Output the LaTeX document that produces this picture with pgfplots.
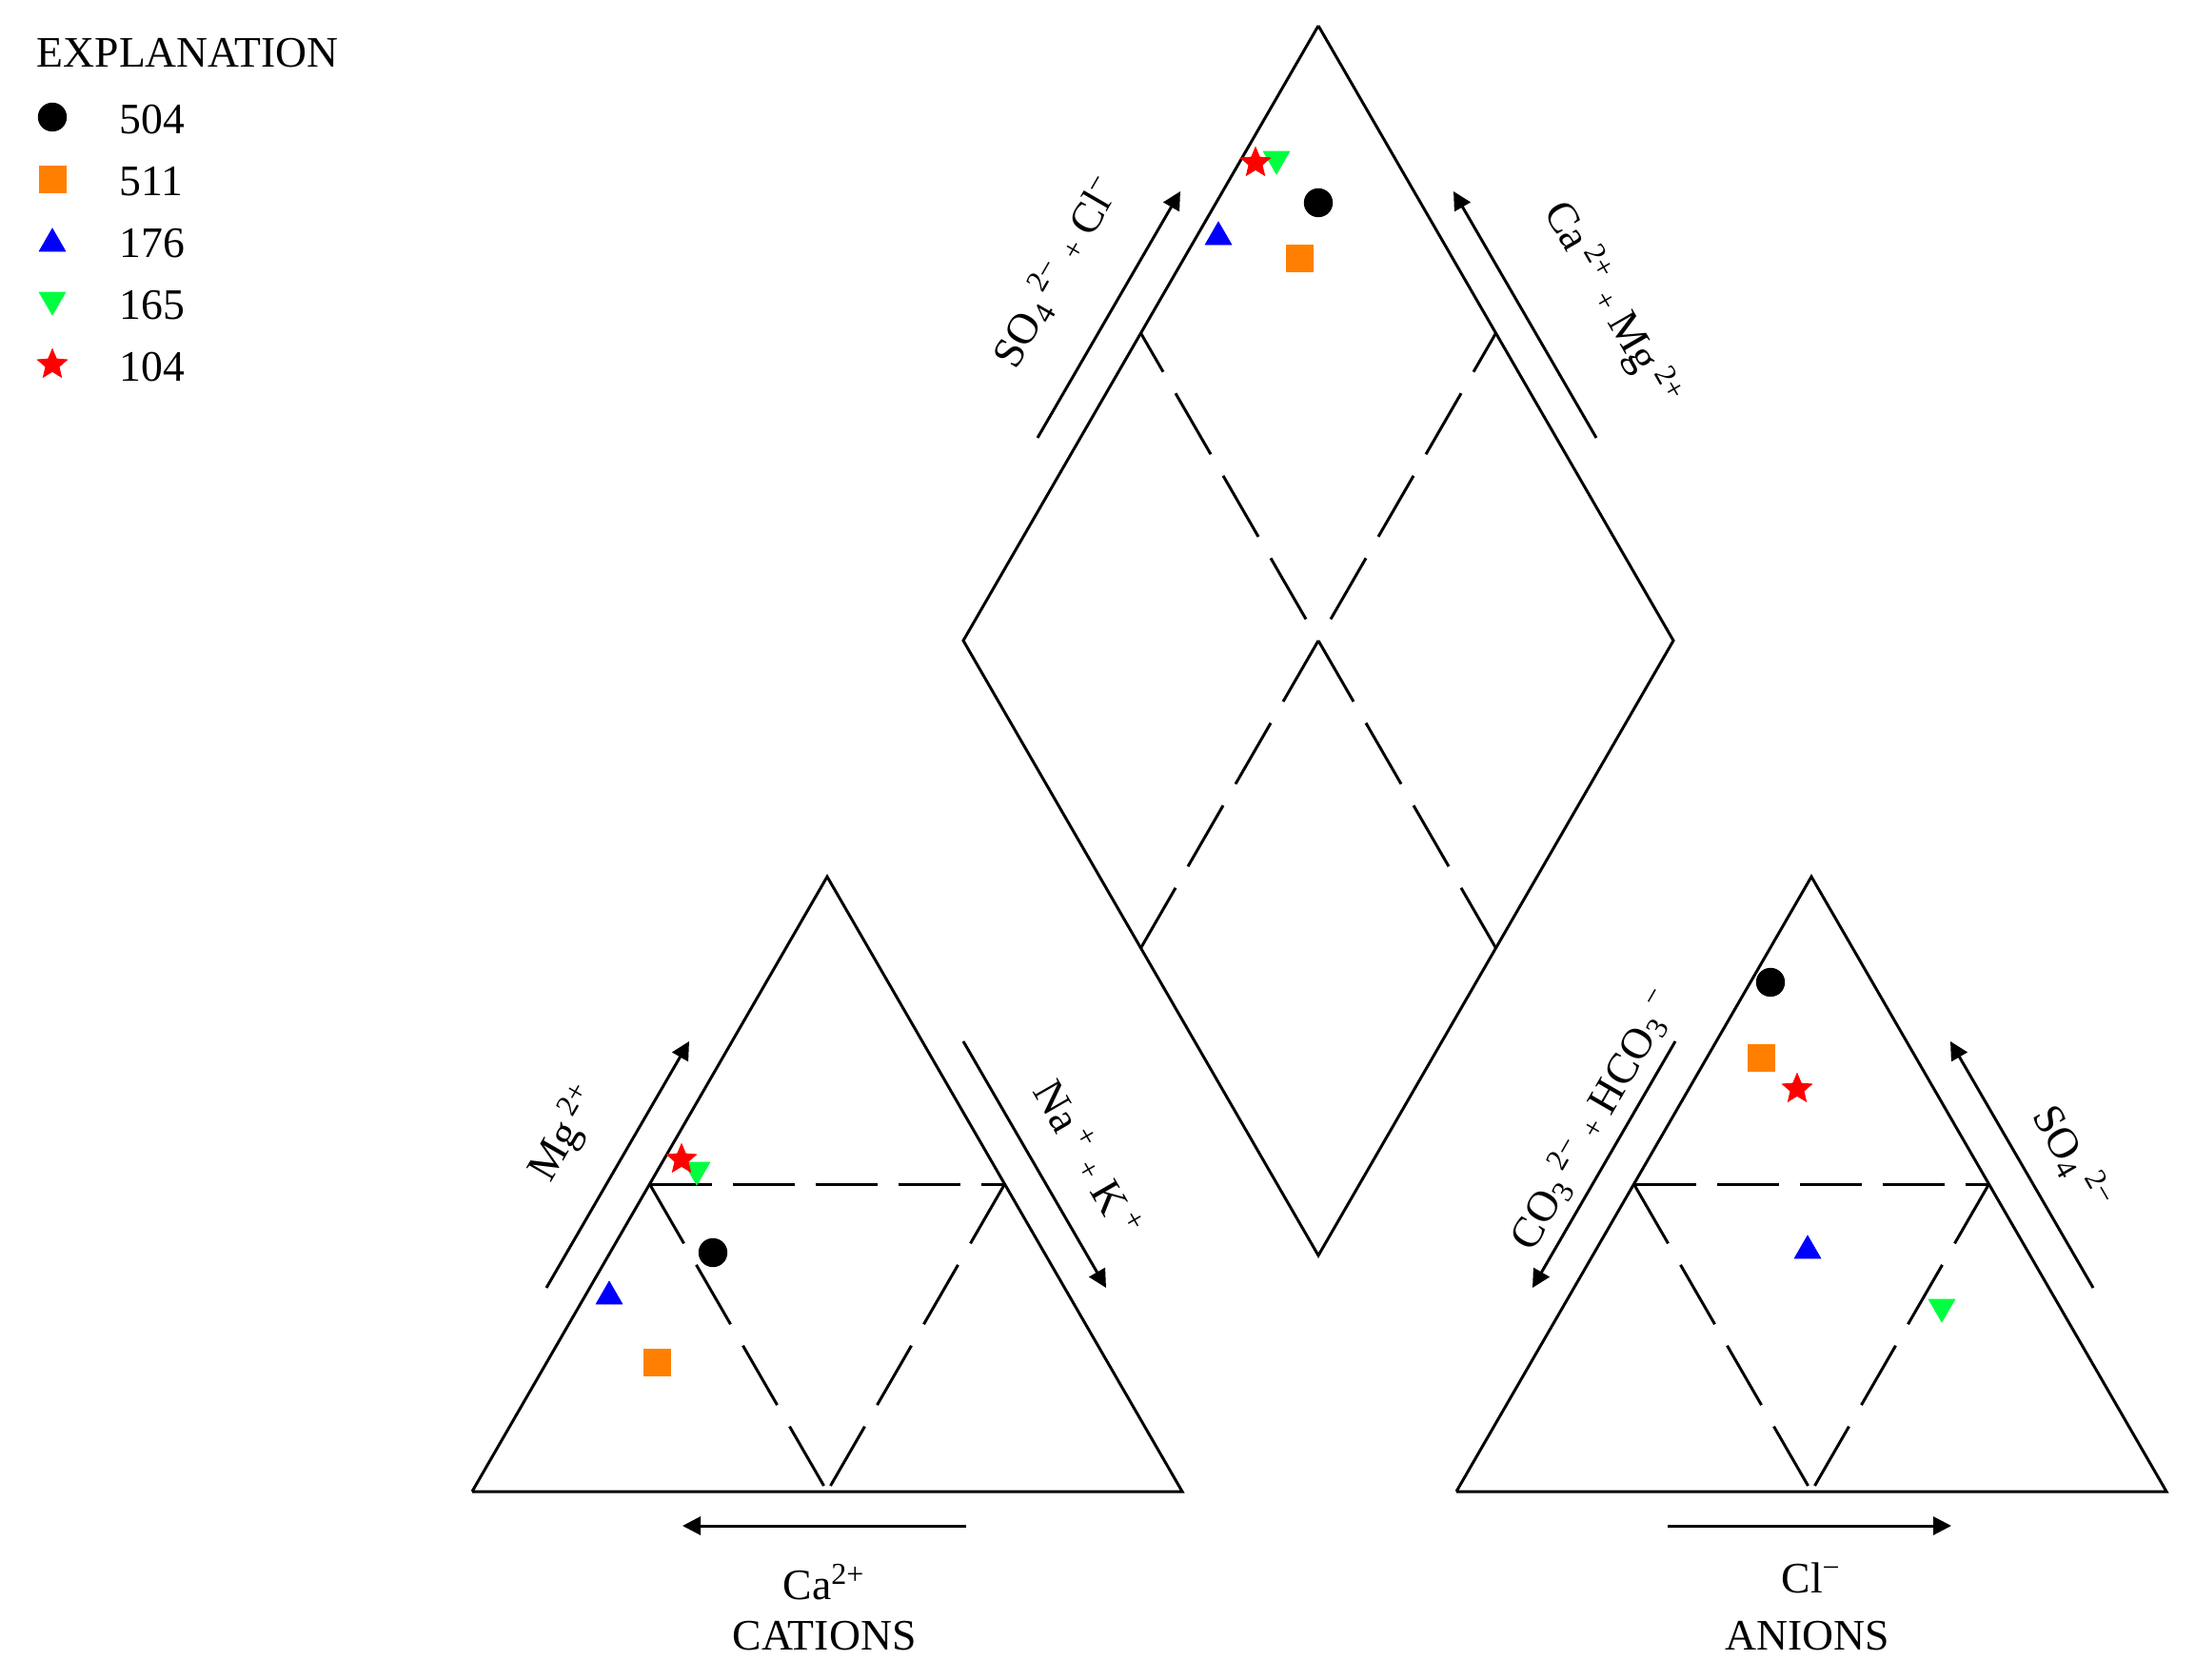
\documentclass[border=0pt]{standalone}
\usepackage{fontspec}
\setmainfont{Liberation Serif}
\usepackage{pgfplots}
\pgfplotsset{compat=1.18}
\usetikzlibrary{arrows.meta}

\definecolor{sorange}{RGB}{255,128,0}
\definecolor{sgreen}{RGB}{0,255,64}
\definecolor{sblue}{RGB}{0,0,255}
\definecolor{sred}{RGB}{255,0,0}

% filled five-point star
\pgfdeclareplotmark{fstar}{%
  \pgfpathmoveto{\pgfpointpolar{90}{\pgfplotmarksize}}%
  \pgfpathlineto{\pgfpointpolar{126}{0.45\pgfplotmarksize}}%
  \pgfpathlineto{\pgfpointpolar{162}{\pgfplotmarksize}}%
  \pgfpathlineto{\pgfpointpolar{198}{0.45\pgfplotmarksize}}%
  \pgfpathlineto{\pgfpointpolar{234}{\pgfplotmarksize}}%
  \pgfpathlineto{\pgfpointpolar{270}{0.45\pgfplotmarksize}}%
  \pgfpathlineto{\pgfpointpolar{306}{\pgfplotmarksize}}%
  \pgfpathlineto{\pgfpointpolar{342}{0.45\pgfplotmarksize}}%
  \pgfpathlineto{\pgfpointpolar{18}{\pgfplotmarksize}}%
  \pgfpathlineto{\pgfpointpolar{54}{0.45\pgfplotmarksize}}%
  \pgfpathclose
  \pgfusepathqfillstroke}

\newcommand{\pl}{{\fontsize{9}{9}\selectfont +}}

\begin{document}
\begin{tikzpicture}[font=\fontsize{13}{15}\selectfont]
\begin{axis}[
  x=0.1mm, y=0.1mm,
  xmin=0, xmax=2306, ymin=0, ymax=1764,
  y dir=reverse,
  hide axis, clip=false,
  edge/.style={black, line width=0.85pt, no marks},
  dsh/.style={black, line width=0.85pt, no marks, dash pattern=on 7.2mm off 2.6mm},
  hdsh/.style={black, line width=0.85pt, no marks, dash pattern=on 6.5mm off 2.2mm},
  arr/.style={black, line width=0.85pt, no marks, -{Triangle[length=1.9mm,width=1.9mm]}},
]
% --- frames (pixel coordinates of the figure, y downward)
\addplot[edge] coordinates {(496,1567) (1242,1567) (869,921) (496,1567)};
\addplot[edge] coordinates {(1530,1567) (2276,1567) (1903,921) (1530,1567)};
\addplot[edge] coordinates {(1385,27) (1758,673) (1385,1319) (1012,673) (1385,27)};

% --- inner dashed lines, cation triangle
\addplot[hdsh] coordinates {(682.5,1244) (1055.5,1244)};
\addplot[dsh] coordinates {(682.5,1244) (869,1567)};
\addplot[dsh] coordinates {(1055.5,1244) (869,1567)};
% --- inner dashed lines, anion triangle
\addplot[hdsh] coordinates {(1716.5,1244) (2089.5,1244)};
\addplot[dsh] coordinates {(1716.5,1244) (1903,1567)};
\addplot[dsh] coordinates {(2089.5,1244) (1903,1567)};
% --- inner dashed lines, diamond
\addplot[dsh, dash pattern=on 7.4mm off 2.6mm, dash phase=7.4mm] coordinates {(1385,673) (1198.5,350)};
\addplot[dsh, dash pattern=on 7.4mm off 2.6mm, dash phase=7.4mm] coordinates {(1385,673) (1571.5,350)};
\addplot[dsh, dash pattern=on 7.4mm off 2.6mm] coordinates {(1385,673) (1198.5,996)};
\addplot[dsh, dash pattern=on 7.4mm off 2.6mm] coordinates {(1385,673) (1571.5,996)};

% --- direction arrows
\addplot[arr] coordinates {(574,1353) (724,1094)};
\addplot[arr] coordinates {(1012,1094) (1162,1353)};
\addplot[arr] coordinates {(1015,1603) (717,1603)};
\addplot[arr] coordinates {(1760,1094) (1610,1353)};
\addplot[arr] coordinates {(2199,1353) (2049,1094)};
\addplot[arr] coordinates {(1752,1603) (2050,1603)};
\addplot[arr] coordinates {(1090,460) (1240,201)};
\addplot[arr] coordinates {(1677,460) (1527,201)};

% --- samples: diamond, cations, anions, legend
\addplot[only marks, mark=*, mark size=1.45mm, black] coordinates {
  (1385,213) (749,1316) (1860,1032) (55,123)};
\addplot[only marks, mark=square*, mark size=1.4mm, sorange,
  mark options={fill=sorange, line width=0.2pt}] coordinates {
  (1365,271) (690,1431) (1850,1111) (55,188)};
\addplot[only marks, mark=triangle*, mark size=1.6mm, sblue,
  mark options={fill=sblue, line width=0.2pt}] coordinates {
  (1280,249) (640,1362) (1899,1314) (55,256)};
\addplot[only marks, mark=triangle*, mark size=1.6mm, sgreen,
  mark options={fill=sgreen, rotate=180, line width=0.2pt}] coordinates {
  (1341,167) (732,1229) (2040,1373) (55,315)};
\addplot[only marks, mark=fstar, mark size=1.65mm, sred,
  mark options={fill=sred, line width=0.2pt}] coordinates {
  (1319,171) (716,1218) (1888,1144) (55,383)};

% --- legend text
\node[anchor=base west, inner sep=0pt] at (axis cs:38,70) {EXPLANATION};
\node[anchor=base west, inner sep=0pt] at (axis cs:125,140) {504};
\node[anchor=base west, inner sep=0pt] at (axis cs:125,205) {511};
\node[anchor=base west, inner sep=0pt] at (axis cs:125,270) {176};
\node[anchor=base west, inner sep=0pt] at (axis cs:125,335) {165};
\node[anchor=base west, inner sep=0pt] at (axis cs:125,400) {104};

% --- axis labels
\node[rotate=60] at (axis cs:1110,285) {SO\textsubscript{4}\,\textsuperscript{2−} \pl\ Cl\textsuperscript{−}};
\node[rotate=-60] at (axis cs:1693,320) {Ca\,\textsuperscript{2+} \pl\ Mg\,\textsuperscript{2+}};
\node[rotate=60] at (axis cs:594,1191) {Mg\,\textsuperscript{2+}};
\node[rotate=-60] at (axis cs:1144,1217) {Na\,\textsuperscript{+} \pl\ K\,\textsuperscript{+}};
\node[rotate=60] at (axis cs:1674,1176) {CO\textsubscript{3}\,\textsuperscript{2−} \pl\ HCO\textsubscript{3}\,\textsuperscript{−}};
\node[rotate=-60] at (axis cs:2177,1217) {SO\textsubscript{4}\,\textsuperscript{2−}};
\node[anchor=base] at (axis cs:866,1680) {Ca\textsuperscript{2+}};
\node[anchor=base] at (axis cs:866,1733) {CATIONS};
\node[anchor=base] at (axis cs:1903,1673) {Cl\textsuperscript{−}};
\node[anchor=base] at (axis cs:1899,1733) {ANIONS};

\coordinate (ll) at (axis cs:0,1764);
\coordinate (ur) at (axis cs:2306,0);
\end{axis}
\pgfresetboundingbox
\path[use as bounding box] (ll) rectangle (ur);
\end{tikzpicture}
\end{document}
